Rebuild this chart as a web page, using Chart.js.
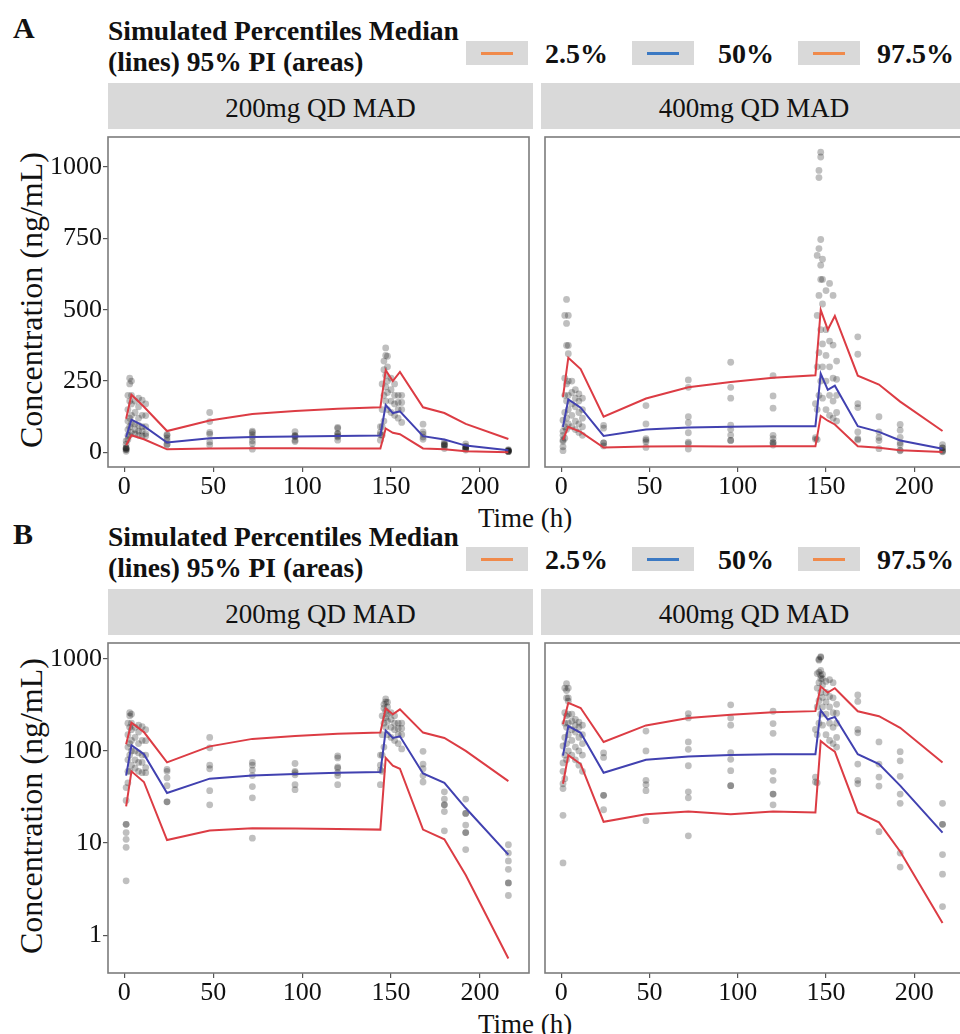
<!DOCTYPE html>
<html lang="en">

<head>
    <meta charset="UTF-8">
    <title>Simulated percentiles</title>
    <style>
        body { margin: 0; overflow: hidden; background: #fff; }
        #page { position: relative; width: 960px; height: 1034px; overflow: hidden; font-family: "Liberation Serif", "Times New Roman", Times, "DejaVu Serif", serif; color: #111; }
        .txt { position: absolute; white-space: nowrap; line-height: 1; }
        .bold { font-weight: bold; }
        .strip { position: absolute; background: #d9d9d9; font-size: 27px; text-align: center; }
        .strip span { position: absolute; left: 0; right: 0; line-height: 1; }
        .key { position: absolute; width: 62px; height: 24px; background: #d9d9d9; }
        .key i { position: absolute; left: 15px; width: 32px; top: 10.5px; height: 3px; }
        .ytitle { position: absolute; width: 440px; text-align: center; font-size: 32px; line-height: 1; transform: rotate(-90deg); }
        canvas { position: absolute; }
    </style>
</head>

<body>
    <div id="page"></div>

    <script src="https://cdn.jsdelivr.net/npm/chart.js"></script>
    <script>
        // simulated percentile lines (nominal time, h)
        const simTime = [1, 4, 11, 24, 48, 72, 96, 120, 144, 147, 151, 155, 168, 180, 192, 216];

        const p975_200 = [118, 202, 160, 75, 112, 135, 145, 153, 158, 288, 250, 282, 158, 138, 100, 47];
        const p50_200 = [54, 115, 92, 35, 50, 54, 56, 58, 59, 166, 138, 144, 57, 45, 24, 7.5];
        const p025_200 = [25, 60, 46, 10.8, 13.7, 14.5, 14.4, 14.2, 14, 84, 69, 64, 14, 11, 4.5, 0.56];

        const p975_400 = [195, 332, 292, 125, 189, 228, 247, 262, 270, 499, 430, 478, 269, 238, 178, 75];
        const p50_400 = [89, 186, 157, 58, 80, 87, 90, 92, 92, 276, 219, 234, 92, 72, 42, 13];
        const p025_400 = [44, 90, 72, 17, 20.5, 22, 20.5, 22, 21.5, 128, 111, 98, 21.5, 16.8, 8.1, 1.36];

        // observed concentrations, grouped by sampling time
        const obsTime = [1, 2, 3, 4, 6, 8, 10, 12, 24, 48, 72, 96, 120, 144, 145, 146, 147, 148, 150, 152, 154, 156, 168, 180, 192, 216];

        const obs200 = [
            [3.9, 9, 11, 13, 16, 16, 29, 40],
            [45, 60, 80, 110, 150, 200],
            [60, 90, 120, 180, 240, 260],
            [70, 100, 130, 170, 200, 250],
            [65, 80, 100, 140, 180],
            [60, 75, 95, 120, 160, 190],
            [58, 75, 90, 130, 183],
            [58, 66, 90, 129, 170],
            [28, 28, 42, 51, 60, 63],
            [26, 37, 64, 70, 108, 140],
            [11.3, 31, 41, 54, 62, 70, 75],
            [38, 43, 55, 58, 60, 73],
            [43, 54, 58, 65, 67, 84, 88],
            [43, 62, 70, 90],
            [60, 90, 150, 240],
            [110, 200, 290, 320],
            [180, 230, 270, 340, 366],
            [150, 210, 250, 300, 337],
            [140, 180, 220, 260],
            [130, 170, 200, 240],
            [120, 150, 175, 200],
            [105, 150, 175, 200],
            [46, 54, 64, 72, 99],
            [13.6, 22, 26, 26, 30, 36],
            [8.5, 13, 13, 15.7, 21, 21, 30],
            [2.7, 3.7, 3.7, 5.2, 6.4, 7.8, 9.6]
        ];

        const obs400 = [
            [6.1, 20, 39, 44, 60, 74, 113],
            [50, 90, 140, 200, 260, 480],
            [80, 120, 180, 240, 375, 452, 536],
            [100, 150, 200, 250, 346, 375, 480],
            [90, 130, 170, 210, 250],
            [80, 110, 160, 190, 220],
            [70, 100, 140, 180, 205],
            [60, 90, 120, 150, 190],
            [23, 33, 33, 85, 95],
            [17.5, 37, 43, 48, 100, 164],
            [12, 31, 36, 69, 104, 125, 228, 254],
            [42, 42, 61, 81, 96, 190, 228, 316],
            [26, 34, 34, 48, 60, 155, 198, 269],
            [46, 52, 171],
            [45, 150, 300, 480, 690],
            [200, 350, 550, 714, 963, 988],
            [250, 430, 606, 656, 746, 1035, 1052],
            [190, 300, 380, 520, 606, 677],
            [150, 250, 340, 430, 567],
            [130, 200, 300, 390, 592],
            [120, 180, 260, 376, 550],
            [110, 140, 200, 256, 320],
            [44, 48, 72, 157, 171, 344, 405],
            [13.3, 41.5, 52, 72, 125],
            [5.5, 7.8, 27, 34, 53, 78, 98],
            [2.05, 4.6, 7.5, 16, 16, 27]
        ];

        const xTicks = [0, 50, 100, 150, 200];
        const yTicksLin = [0, 250, 500, 750, 1000];
        const yTicksLog = [1, 10, 100, 1000];

        const facets = ["200mg QD MAD", "400mg QD MAD"];
        const legendLabels = ["2.5%", "50%", "97.5%"];
        const legendColors = ["#f08a4b", "#3b79c3", "#f08a4b"];

        const RED = "#dc3c44";
        const BLUE = "#4141b0";
        const SERIF = '"Liberation Serif", "Times New Roman", Times, "DejaVu Serif", serif';

        Chart.defaults.font.family = SERIF;

        const page = document.getElementById("page");

        function addEl(cls, css, html) {
            let d = document.createElement("div");
            d.className = cls;
            d.style.cssText = css;
            if (html) d.innerHTML = html;
            page.appendChild(d);
            return d;
        }

        const boxPlugin = {
            id: "panelBox",
            afterDraw(chart) {
                const a = chart.chartArea;
                const c = chart.ctx;
                c.save();
                c.strokeStyle = "#7c7c7c";
                c.lineWidth = 1.6;
                c.strokeRect(a.left, a.top, a.right - a.left, a.bottom - a.top);
                c.restore();
            }
        };

        function lineSet(vals, color) {
            return {
                data: simTime.map((t, i) => ({ x: t, y: vals[i] })),
                showLine: true,
                borderColor: color,
                borderWidth: 2,
                pointRadius: 0,
                tension: 0
            };
        }

        function makePanel(left, top, width, obs, p025, p50, p975, logY, showY) {
            let cv = document.createElement("canvas");
            cv.width = width;
            cv.height = 370;
            cv.style.left = left + "px";
            cv.style.top = top + "px";
            page.appendChild(cv);

            let pts = [];
            for (let i = 0; i < obsTime.length; i++) {
                for (let k = 0; k < obs[i].length; k++) {
                    pts.push({ x: obsTime[i], y: obs[i][k] });
                }
            }

            const tickFont = { family: SERIF, size: 26 };
            const gridOpt = { display: true, drawOnChartArea: false, drawTicks: true, tickLength: 5, color: "#555", lineWidth: 1.2 };

            new Chart(cv, {
                type: "scatter",
                data: {
                    datasets: [
                        lineSet(p975, RED),
                        lineSet(p50, BLUE),
                        lineSet(p025, RED),
                        { data: pts, backgroundColor: "rgba(0,0,0,0.25)", borderWidth: 0, pointRadius: 3.4 }
                    ]
                },
                options: {
                    responsive: false,
                    animation: false,
                    events: [],
                    layout: { padding: 0 },
                    plugins: { legend: { display: false }, tooltip: { enabled: false } },
                    scales: {
                        x: {
                            type: "linear",
                            min: -9.2,
                            max: 227.6,
                            afterBuildTicks: s => { s.ticks = xTicks.map(v => ({ value: v })); },
                            afterFit: s => { s.height = 36; s.paddingLeft = 0; s.paddingRight = 0; },
                            ticks: { font: tickFont, color: "#111", padding: 0, maxRotation: 0, autoSkip: false, callback: v => String(v) },
                            grid: gridOpt,
                            border: { display: false }
                        },
                        y: {
                            type: logY ? "logarithmic" : "linear",
                            display: showY,
                            min: logY ? 0.39 : -51,
                            max: logY ? 1480 : 1105,
                            afterBuildTicks: s => { s.ticks = (logY ? yTicksLog : yTicksLin).map(v => ({ value: v })); },
                            afterFit: s => {
                                s.width = showY ? 68 : 0;
                                s.paddingTop = 0;
                                s.paddingBottom = 0;
                            },
                            ticks: { font: tickFont, color: "#111", padding: 1, autoSkip: false, callback: v => String(v) },
                            grid: gridOpt,
                            border: { display: false }
                        }
                    }
                },
                plugins: [boxPlugin]
            });
        }

        // two figure parts: A linear, B log
        const parts = [["A", 0, false], ["B", 506, true]];

        for (let p = 0; p < parts.length; p++) {
            let dy = parts[p][1];
            let logY = parts[p][2];

            addEl("txt bold", `left:13px;top:${13 + dy}px;font-size:30px;`, parts[p][0]);
            addEl("txt bold", `left:108px;top:${17 + dy}px;font-size:27.5px;`, "Simulated Percentiles Median");
            addEl("txt bold", `left:108px;top:${48 + dy}px;font-size:27.5px;`, "(lines) 95% PI (areas)");

            const keyX = [466, 632, 798];
            const labX = [545, 718, 877];
            for (let k = 0; k < legendLabels.length; k++) {
                addEl("key", `left:${keyX[k]}px;top:${41 + dy}px;`, `<i style="background:${legendColors[k]}"></i>`);
                addEl("txt bold", `left:${labX[k]}px;top:${40 + dy}px;font-size:28px;`, legendLabels[k]);
            }

            addEl("strip", `left:108px;width:425px;top:${83 + dy}px;height:46px;`, `<span style="top:12px">${facets[0]}</span>`);
            addEl("strip", `left:541px;width:426px;top:${83 + dy}px;height:46px;`, `<span style="top:12px">${facets[1]}</span>`);

            addEl("ytitle", `left:-189px;top:${284 + dy}px;`, "Concentration (ng/mL)");
            addEl("txt", `left:478px;top:${505 + dy}px;font-size:27px;`, "Time (h)");

            makePanel(40, 133 + dy, 493, obs200, p025_200, p50_200, p975_200, logY, true);
            makePanel(541, 133 + dy, 426, obs400, p025_400, p50_400, p975_400, logY, false);
        }
    </script>

</body>

</html>
